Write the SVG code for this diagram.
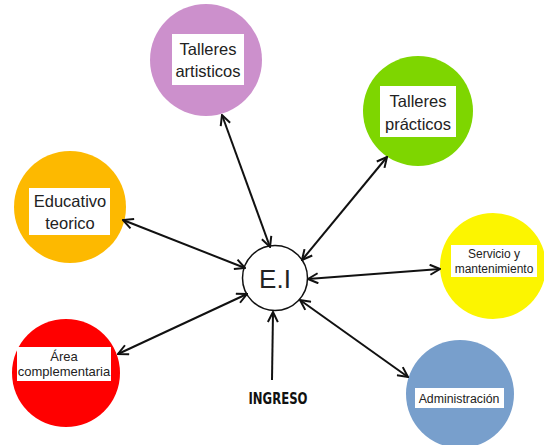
<svg xmlns="http://www.w3.org/2000/svg" width="544" height="445" viewBox="0 0 544 445">
<style>
.lbl{font-family:"Liberation Sans",Arial,sans-serif;fill:#222;text-anchor:middle}
.box{fill:#fff}
.con{stroke:#111;stroke-width:2;fill:none}
</style>
<defs>
<marker id="ah" viewBox="0 0 12 12" refX="11" refY="6" markerWidth="12" markerHeight="12" markerUnits="userSpaceOnUse" orient="auto-start-reverse">
<path d="M1,1 L11,6 L1,11" fill="none" stroke="#111" stroke-width="2"/>
</marker>
</defs>
<rect width="544" height="445" fill="#fff"/>
<g id="talleres-artisticos">
<circle cx="206" cy="60" r="56" fill="#cc90cc"/>
<rect class="box" x="172" y="34" width="72" height="51"/>
<text class="lbl" x="208" y="55" font-size="16.5">Talleres</text>
<text class="lbl" x="208" y="77" font-size="16.5">artisticos</text>
</g>
<g id="talleres-practicos">
<circle cx="418" cy="111" r="55" fill="#7ed600"/>
<rect class="box" x="380" y="86" width="76" height="51"/>
<text class="lbl" x="418" y="107" font-size="16.5">Talleres</text>
<text class="lbl" x="418" y="130" font-size="16.5">prácticos</text>
</g>
<g id="educativo-teorico">
<circle cx="70" cy="207" r="56" fill="#fdb900"/>
<rect class="box" x="29" y="188" width="81" height="47"/>
<text class="lbl" x="70" y="207" font-size="16.5">Educativo</text>
<text class="lbl" x="70" y="229" font-size="16.5">teorico</text>
</g>
<g id="ei">
<circle cx="275" cy="278" r="32.5" fill="#fff" stroke="#111" stroke-width="1.5"/>
<text class="lbl" x="275" y="288" font-size="26">E.I</text>
</g>
<g id="servicio">
<circle cx="493" cy="266" r="53" fill="#fcf500"/>
<rect class="box" x="451" y="245" width="86" height="32"/>
<text class="lbl" x="494" y="258" font-size="12">Servicio y</text>
<text class="lbl" x="494" y="273" font-size="12">mantenimiento</text>
</g>
<g id="area-complementaria">
<circle cx="66" cy="373" r="54" fill="#ff0000"/>
<rect class="box" x="17" y="347" width="94" height="34"/>
<text class="lbl" x="64" y="361" font-size="13">Área</text>
<text class="lbl" x="64" y="376" font-size="13">complementaria</text>
</g>
<g id="administracion">
<circle cx="460" cy="394" r="54" fill="#789fcc"/>
<rect class="box" x="415" y="388" width="89" height="20"/>
<text class="lbl" x="459" y="403" font-size="12.3">Administración</text>
</g>
<g id="ingreso">
<text x="278" y="404" font-family="'Liberation Sans Narrow','DejaVu Sans Condensed',sans-serif" font-weight="bold" font-size="16.5" fill="#111" text-anchor="middle" textLength="59" lengthAdjust="spacingAndGlyphs">INGRESO</text>
</g>
<g id="connectors">
<line class="con" x1="222" y1="115" x2="270" y2="247" marker-start="url(#ah)" marker-end="url(#ah)"/>
<line class="con" x1="387" y1="157" x2="302" y2="260" marker-start="url(#ah)" marker-end="url(#ah)"/>
<line class="con" x1="123" y1="220" x2="245" y2="268" marker-start="url(#ah)" marker-end="url(#ah)"/>
<line class="con" x1="440" y1="269" x2="308" y2="279" marker-start="url(#ah)" marker-end="url(#ah)"/>
<line class="con" x1="118" y1="354" x2="247" y2="294" marker-start="url(#ah)" marker-end="url(#ah)"/>
<line class="con" x1="408" y1="377" x2="300" y2="300" marker-start="url(#ah)" marker-end="url(#ah)"/>
<line class="con" x1="272" y1="380" x2="273" y2="312" marker-end="url(#ah)"/>
</g>
</svg>
